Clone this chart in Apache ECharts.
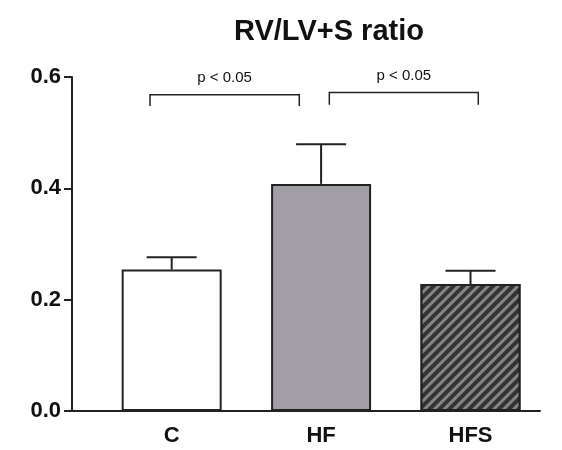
<!DOCTYPE html>
<html>
<head>
<meta charset="utf-8">
<script src="https://cdn.jsdelivr.net/npm/echarts@6/dist/echarts.min.js"></script>
<style>
  html, body { margin: 0; padding: 0; background: #fff; }
  #main { width: 562px; height: 450px; }
</style>
</head>
<body>
<div id="main"></div>
<script>
// data
var categories = ['C', 'HF', 'HFS'];
var means = [0.254, 0.408, 0.228];
var errors = [0.022, 0.071, 0.024];
var yTicks = [0, 0.2, 0.4, 0.6];
// brackets: [x start, x end, y top, y bottom] in axis units
var brackets = [
  [-0.145, 0.854, 0.568, 0.548],
  [1.055, 2.052, 0.572, 0.550]
];
var bracketLabels = ['p < 0.05', 'p < 0.05'];

var fills = [
  { color: '#ffffff' },
  { color: '#a19fa5' },
  { color: '#333333', decal: { symbol: 'rect', dashArrayX: [1, 0], dashArrayY: [3, 4], rotation: -Math.PI / 4, color: '#858585' } }
];

var myChart = echarts.init(document.getElementById('main'));

var option = {
  animation: false,
  title: {
    text: 'RV/LV+S ratio',
    left: 324,
    textAlign: 'center',
    top: 12,
    textStyle: { fontFamily: 'Liberation Sans', fontWeight: 'bold', fontSize: 29, color: '#111' }
  },
  grid: { left: 72, right: 22, top: 77, bottom: 39 },
  xAxis: {
    type: 'value',
    min: -0.667,
    max: 2.465,
    splitLine: { show: false },
    axisTick: { show: false },
    axisLine: { onZero: false, lineStyle: { color: '#222', width: 2 } },
    axisLabel: {
      customValues: [0, 1, 2],
      formatter: function (v) { return categories[Math.round(v)]; },
      margin: 14,
      fontFamily: 'Liberation Sans', fontWeight: 'bold', fontSize: 22, color: '#111'
    }
  },
  yAxis: {
    type: 'value',
    min: 0,
    max: 0.6,
    interval: 0.2,
    splitLine: { show: false },
    axisLine: { show: true, onZero: false, lineStyle: { color: '#222', width: 2 } },
    axisTick: { show: true, length: 8, lineStyle: { color: '#222', width: 2 } },
    axisLabel: {
      margin: 11,
      formatter: function (v) { return v.toFixed(1); },
      fontFamily: 'Liberation Sans', fontWeight: 'bold', fontSize: 22, color: '#111'
    }
  },
  series: [
    {
      type: 'bar',
      barWidth: 100,
      data: means.map(function (m, i) {
        return {
          value: [i, m],
          itemStyle: Object.assign({ borderColor: '#222', borderWidth: 2 }, fills[i])
        };
      }),
      z: 2
    },
    {
      type: 'custom',
      z: 1,
      data: means.map(function (m, i) { return [i, m, m + errors[i]]; }),
      renderItem: function (params, api) {
        var base = api.coord([api.value(0), api.value(1)]);
        var top = api.coord([api.value(0), api.value(2)]);
        var style = { stroke: '#222', lineWidth: 2 };
        return {
          type: 'group',
          children: [
            { type: 'line', shape: { x1: base[0], y1: base[1], x2: top[0], y2: top[1] }, style: style },
            { type: 'line', shape: { x1: top[0] - 25, y1: top[1], x2: top[0] + 25, y2: top[1] }, style: style }
          ]
        };
      }
    },
    {
      type: 'custom',
      data: brackets,
      renderItem: function (params, api) {
        var a = api.coord([api.value(0), api.value(3)]);
        var b = api.coord([api.value(0), api.value(2)]);
        var c = api.coord([api.value(1), api.value(2)]);
        var d = api.coord([api.value(1), api.value(3)]);
        return {
          type: 'group',
          children: [
            { type: 'polyline', shape: { points: [a, b, c, d] }, style: { stroke: '#222', lineWidth: 1.5, fill: null } },
            {
              type: 'text',
              x: (b[0] + c[0]) / 2,
              y: b[1] - 17,
              style: {
                text: bracketLabels[params.dataIndex],
                fontFamily: 'Liberation Sans', fontSize: 15, fill: '#111',
                align: 'center', verticalAlign: 'middle'
              }
            }
          ]
        };
      }
    }
  ]
};

myChart.setOption(option);
</script>
</body>
</html>
